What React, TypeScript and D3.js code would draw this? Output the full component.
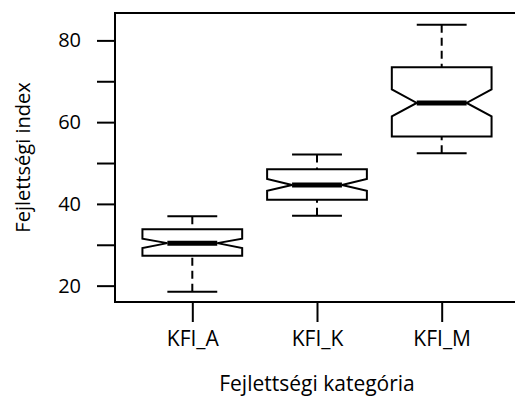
import React, { useEffect, useRef } from "react";
import * as d3 from "d3";

const categories = ["KFI_A", "KFI_K", "KFI_M"];
const whiskerLow = [18.5, 37.1, 52.4];
const q1 = [27.3, 41.0, 56.5];
const notchLow = [29.2, 43.2, 61.4];
const median = [30.4, 44.6, 64.7];
const notchHigh = [31.5, 46.1, 68.0];
const q3 = [33.8, 48.5, 73.4];
const whiskerHigh = [37.0, 52.1, 83.8];
const yTicks = [20, 40, 60, 80];
const yMinorTicks = [30, 50, 70];

const FONT = "'Open Sans', sans-serif";

const App = () => {
  const svgRef = useRef<SVGSVGElement>(null);

  useEffect(() => {
    const width = 515;
    const height = 399;
    const margin = { top: 13, right: -4, bottom: 97, left: 115 };
    const innerW = width - margin.left - margin.right;
    const innerH = height - margin.top - margin.bottom;

    const root = d3.select(svgRef.current);
    root.selectAll("*").remove();
    root.attr("width", width).attr("height", height);

    const svg = root
      .append("g")
      .attr("transform", `translate(${margin.left},${margin.top})`);

    const x = d3.scaleLinear().domain([0.38, 3.62]).range([0, innerW]);
    const y = d3.scaleLinear().domain([16.0, 86.7]).range([innerH, 0]);
    const half = x(1.4) - x(1);

    // frame
    svg
      .append("rect")
      .attr("x", 0)
      .attr("y", 0)
      .attr("width", innerW)
      .attr("height", innerH)
      .attr("fill", "none")
      .attr("stroke", "#000")
      .attr("stroke-width", 2);

    // y axis
    const yAxis = svg
      .append("g")
      .call(
        d3
          .axisLeft(y)
          .tickValues([...yTicks, ...yMinorTicks])
          .tickSize(18)
          .tickPadding(16)
          .tickFormat((d) => (yTicks.includes(d as number) ? String(d) : ""))
      );
    yAxis.select(".domain").remove();
    yAxis.selectAll("line").attr("stroke-width", 2);
    yAxis
      .selectAll("text")
      .attr("font-family", FONT)
      .attr("font-size", 20)
      .attr("fill", "#000");

    // x axis
    const xAxis = svg
      .append("g")
      .attr("transform", `translate(0,${innerH})`)
      .call(
        d3
          .axisBottom(x)
          .tickValues([1, 2, 3])
          .tickSize(20)
          .tickPadding(9)
          .tickFormat((d) => categories[(d as number) - 1])
      );
    xAxis.select(".domain").remove();
    xAxis.selectAll("line").attr("stroke-width", 2);
    xAxis
      .selectAll("text")
      .attr("font-family", FONT)
      .attr("font-size", 21)
      .attr("fill", "#000");

    const boxes = svg
      .selectAll(".box")
      .data(categories)
      .enter()
      .append("g")
      .attr("class", "box");

    // whiskers
    [
      [whiskerHigh, q3],
      [whiskerLow, q1],
    ].forEach(([from, to]) => {
      boxes
        .append("line")
        .attr("x1", (d, i) => x(i + 1))
        .attr("x2", (d, i) => x(i + 1))
        .attr("y1", (d, i) => y(from[i]))
        .attr("y2", (d, i) => y(to[i]))
        .attr("stroke", "#000")
        .attr("stroke-width", 2)
        .attr("stroke-dasharray", "8,5");
    });

    // caps
    [whiskerHigh, whiskerLow].forEach((arr) => {
      boxes
        .append("line")
        .attr("x1", (d, i) => x(i + 1) - half / 2)
        .attr("x2", (d, i) => x(i + 1) + half / 2)
        .attr("y1", (d, i) => y(arr[i]))
        .attr("y2", (d, i) => y(arr[i]))
        .attr("stroke", "#000")
        .attr("stroke-width", 2);
    });

    // notched box
    boxes
      .append("path")
      .attr("d", (d, i) => {
        const c = x(i + 1);
        const pts: [number, number][] = [
          [c - half, y(q1[i])],
          [c - half, y(notchLow[i])],
          [c - half / 2, y(median[i])],
          [c - half, y(notchHigh[i])],
          [c - half, y(q3[i])],
          [c + half, y(q3[i])],
          [c + half, y(notchHigh[i])],
          [c + half / 2, y(median[i])],
          [c + half, y(notchLow[i])],
          [c + half, y(q1[i])],
        ];
        return d3.line()(pts) + "Z";
      })
      .attr("fill", "#fff")
      .attr("stroke", "#000")
      .attr("stroke-width", 2)
      .attr("stroke-linejoin", "miter");

    // median
    boxes
      .append("line")
      .attr("x1", (d, i) => x(i + 1) - half / 2)
      .attr("x2", (d, i) => x(i + 1) + half / 2)
      .attr("y1", (d, i) => y(median[i]))
      .attr("y2", (d, i) => y(median[i]))
      .attr("stroke", "#000")
      .attr("stroke-width", 5);

    // axis titles
    root
      .append("text")
      .attr("x", margin.left + x(2))
      .attr("y", 391)
      .attr("text-anchor", "middle")
      .attr("font-family", FONT)
      .attr("font-size", 21)
      .text("Fejlettségi kategória");

    root
      .append("text")
      .attr("transform", `translate(30,${margin.top + innerH / 2}) rotate(-90)`)
      .attr("text-anchor", "middle")
      .attr("font-family", FONT)
      .attr("font-size", 20)
      .text("Fejlettségi index");
  }, []);

  return <svg ref={svgRef} style={{ position: "absolute", left: 0, top: 0 }}></svg>;
};

export default App;
